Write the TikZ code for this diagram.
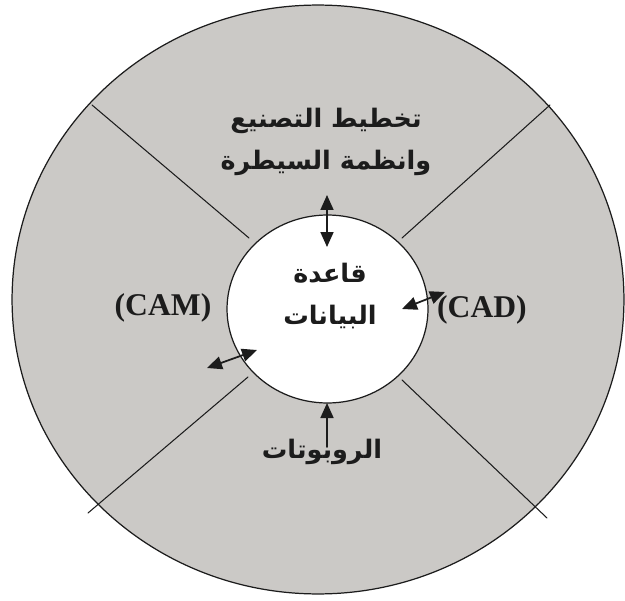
\documentclass[tikz,border=0pt]{standalone}
\usepackage{fontspec}
\setmainfont{Liberation Serif}
\newfontfamily\arabicfont[Script=Arabic]{DejaVu Sans}
\TeXXeTstate=1
\usetikzlibrary{arrows.meta,shapes.geometric}
\definecolor{ink}{RGB}{28,28,28}
\definecolor{ringfill}{RGB}{203,201,198}
\definecolor{corefill}{RGB}{255,255,255}

\begin{document}
\begin{tikzpicture}[
  x=0.02cm,
  y=-0.02cm,
  line cap=round,
  line join=round,
  ring/.style={
    draw=ink,
    fill=ringfill,
    line width=0.7pt
  },
  core/.style={
    ellipse,
    draw=ink,
    fill=corefill,
    line width=0.7pt,
    minimum width=4.02cm,
    minimum height=3.76cm,
    inner sep=0pt
  },
  divider/.style={
    draw=ink,
    line width=0.6pt
  },
  arlabel/.style={
    font=\arabicfont\bfseries\fontsize{14.5}{23.5}\selectfont,
    text=ink,
    align=center,
    inner sep=0pt
  },
  label/.style={
    font=\rmfamily\bfseries\fontsize{18}{20}\selectfont,
    text=ink,
    inner sep=0pt
  },
  link/.style={
    {Triangle[length=3mm,width=2.6mm]}-{Triangle[length=3mm,width=2.6mm]},
    draw=ink,
    line width=1pt
  },
  feed/.style={
    -{Triangle[length=3mm,width=2.6mm]},
    draw=ink,
    line width=1pt
  }
]
\useasboundingbox (0,0) rectangle (625,601);

% ---------------------------------------------------------------------------
% Outer ring and the four sector dividers.
% ---------------------------------------------------------------------------
\path[ring] (318,299.5) ellipse [x radius=6.12cm, y radius=5.89cm];

\draw[divider] (92,105) -- (249,238);
\draw[divider] (550,105) -- (402,238);
\draw[divider] (248,377) -- (88,513);
\draw[divider] (402,380) -- (547,518);

% Database core.
\node[core] (db) at (327.5,309) {};
\node[arlabel] (dbtext) at (330,296)
  {\beginR قاعدة\endR\\\beginR البيانات\endR};

% ---------------------------------------------------------------------------
% Sector labels.
% ---------------------------------------------------------------------------
\node[arlabel] (plan) at (326,142)
  {\beginR تخطيط التصنيع\endR\\\beginR وانظمة السيطرة\endR};
\node[label] (cam) at (163,308) {(CAM)};
\node[label] (cad) at (482,310) {(CAD)};
\node[arlabel] (robots) at (322,452) {\beginR الروبوتات\endR};

% Exchange arrows between the sectors and the database.
\coordinate (planout) at (327,195);
\coordinate (planin) at (327,247);
\draw[link] (planout) -- (planin);

\coordinate (cadin) at (402,309);
\coordinate (cadout) at (445,292);
\draw[link] (cadin) -- (cadout);

\coordinate (camout) at (207,368);
\coordinate (camin) at (257,350);
\draw[link] (camout) -- (camin);

\coordinate (robotsout) at (327,447);
\coordinate (robotsin) at (327,403);
\draw[feed] (robotsout) -- (robotsin);

\end{tikzpicture}
\end{document}
